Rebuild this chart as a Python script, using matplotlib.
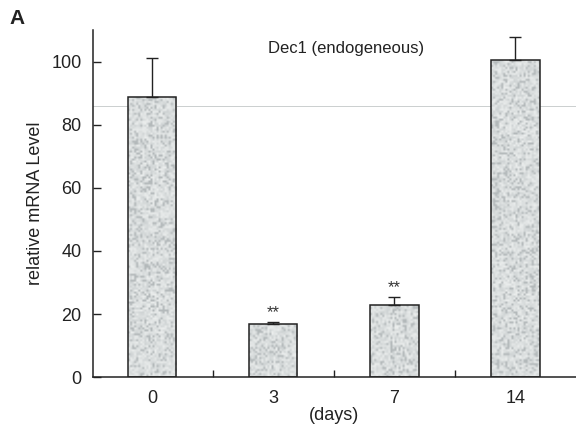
import numpy as np
import matplotlib
matplotlib.use("Agg")
import matplotlib.pyplot as plt
from matplotlib.colors import LinearSegmentedColormap

days = ["0", "3", "7", "14"]
mrna_level = [88.6, 16.9, 22.7, 100.6]
err_upper = [12.4, 0.6, 2.6, 7.2]
stars = ["", "**", "**", ""]

plt.rcParams["font.family"] = ["Liberation Sans", "DejaVu Sans"]

fig = plt.figure(figsize=(5.76, 4.34), dpi=100)
ax = fig.add_axes([0.161, 0.131, 0.839, 0.80])

x = np.arange(len(days))
width = 0.4

bars = ax.bar(x, mrna_level, width=width, color="none", edgecolor="#222222",
              linewidth=1.1, zorder=3)

# speckled grey fill, clipped to each bar
speckle = LinearSegmentedColormap.from_list(
    "speckle", ["#9ea4a6", "#c9cecf", "#f4f6f5"])
rng = np.random.default_rng(7)
for b in bars:
    rows = max(int(b.get_height() * 1.6), 4)
    tex = 0.55 + 0.35 * rng.random((rows, 24))
    tex[rng.random(tex.shape) < 0.18] = 0.25
    im = ax.imshow(tex, cmap=speckle, vmin=0, vmax=1, aspect="auto",
                   extent=[b.get_x(), b.get_x() + b.get_width(), 0, b.get_height()],
                   zorder=2, interpolation="bilinear")
    im.set_clip_path(b)

ax.errorbar(x, mrna_level, yerr=[np.zeros(len(x)), err_upper], fmt="none",
            ecolor="#222222", elinewidth=1, capsize=4, capthick=1, zorder=4)

for xi, v, e, s in zip(x, mrna_level, err_upper, stars):
    if s:
        ax.text(xi, v + e + 0.6, s, ha="center", va="bottom", fontsize=12,
                color="#333333")

# faint scan line across the figure
ax.axhline(85.8, color="#a8b0b0", linewidth=0.7, alpha=0.6, zorder=1)

ax.set_xlim(-0.49, 3.5)
ax.set_ylim(0, 110)
ax.set_yticks([0, 20, 40, 60, 80, 100])
ax.set_xticks(x)
ax.set_xticklabels(days)
ax.set_xticks([0.5, 1.5, 2.5], minor=True)
ax.tick_params(axis="x", which="major", length=0, labelsize=13, pad=9,
               colors="#222222")
ax.tick_params(axis="x", which="minor", direction="in", length=5, width=1,
               color="#222222")
ax.tick_params(axis="y", direction="in", length=6, width=1, labelsize=13,
               pad=8, colors="#222222")
for side in ["top", "right"]:
    ax.spines[side].set_visible(False)
for side in ["left", "bottom"]:
    ax.spines[side].set_linewidth(1.1)
    ax.spines[side].set_color("#222222")

ax.set_ylabel("relative mRNA Level", fontsize=13, labelpad=5, color="#222222")
ax.set_xlabel("(days)", fontsize=13, labelpad=0, color="#222222")
ax.text(1.6, 104, "Dec1 (endogeneous)", ha="center", va="center", fontsize=12,
        color="#222222")
fig.text(0.017, 0.958, "A", fontsize=15, fontweight="bold", ha="left",
         va="center", color="#222222")

fig.savefig("out.png", dpi=100)
